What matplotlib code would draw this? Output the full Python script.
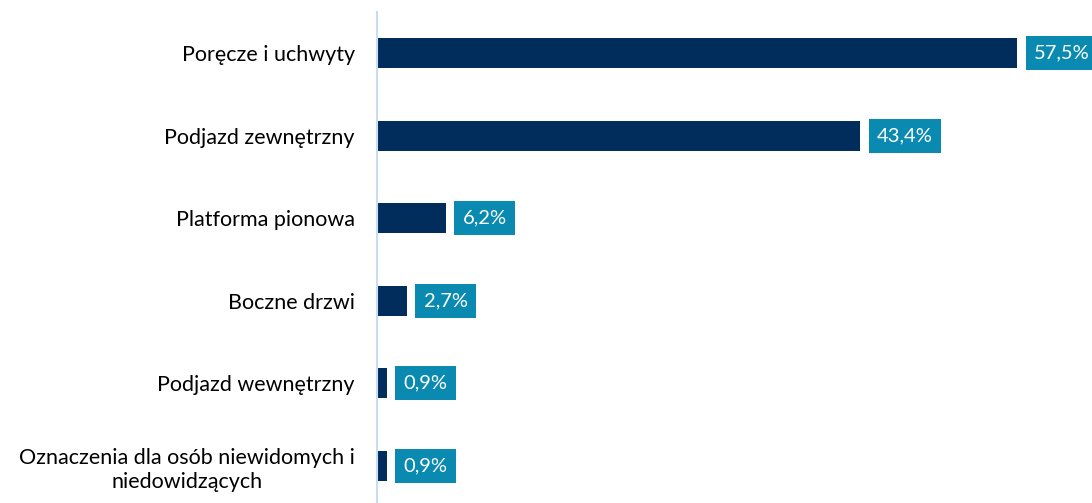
import numpy as np
import matplotlib.pyplot as plt

plt.rcParams['font.family'] = ['Lato', 'DejaVu Sans']

categories = ['Poręcze i uchwyty', 'Podjazd zewnętrzny', 'Platforma pionowa',
              'Boczne drzwi', 'Podjazd wewnętrzny',
              'Oznaczenia dla osób niewidomych i\nniedowidzących']
values = [57.5, 43.4, 6.2, 2.7, 0.9, 0.9]
labels = ['57,5%', '43,4%', '6,2%', '2,7%', '0,9%', '0,9%']

bar_color = '#002D5C'
box_color = '#0A8AB1'

fig = plt.figure(figsize=(10.92, 5.03), dpi=100)
ax = fig.add_axes([377 / 1092, 0, 1 - 377 / 1092, 1 - 12 / 503])

y = np.arange(len(categories))
ax.barh(y, values, height=0.36, color=bar_color)

for yi, v, lab in zip(y, values, labels):
    ax.annotate(lab, (v, yi), xytext=(12, 0), textcoords='offset points',
                ha='left', va='center', color='white', fontsize=14.5,
                bbox=dict(boxstyle='square,pad=0.42', fc=box_color, ec='none'))

ax.set_xlim(0, 64.2)
ax.set_ylim(5.45, -0.5)
ax.set_yticks(y)
ax.set_yticklabels(categories, fontsize=15.5, multialignment='center', linespacing=1.25)
ax.tick_params(axis='y', length=0, pad=16)
ax.set_xticks([])
for s in ['top', 'right', 'bottom']:
    ax.spines[s].set_visible(False)
ax.spines['left'].set_color('#C9DDF2')
ax.spines['left'].set_linewidth(1.5)

plt.savefig('out.png', dpi=100)
